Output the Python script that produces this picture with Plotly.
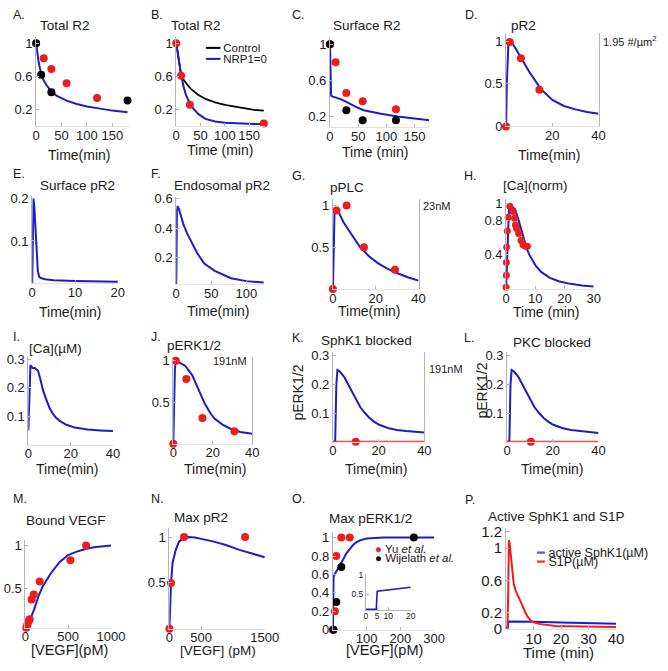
import plotly.graph_objects as go

# ---------------- data ----------------
# A. Total R2
a_t = [0, 2, 5, 10, 15, 20, 30, 40, 60, 80, 100, 120, 150, 180]
a_model = [1, 0.9, 0.77, 0.63, 0.55, 0.5, 0.42, 0.37, 0.31, 0.27, 0.24, 0.22, 0.19, 0.17]
a_red_t = [15, 30, 60, 120]
a_red_v = [0.82, 0.69, 0.52, 0.34]
a_blk_t = [0, 10, 30, 180]
a_blk_v = [1, 0.62, 0.41, 0.31]

# B. Total R2, control vs NRP1=0
b_t = [0, 5, 10, 15, 20, 30, 45, 60, 80, 100, 130, 160, 180]
b_control = [1, 0.78, 0.62, 0.56, 0.52, 0.45, 0.38, 0.33, 0.29, 0.26, 0.23, 0.2, 0.19]
b_nrp1 = [1, 0.78, 0.62, 0.48, 0.38, 0.25, 0.15, 0.09, 0.06, 0.045, 0.035, 0.03, 0.03]
b_red_t = [0, 10, 28, 180]
b_red_v = [1, 0.61, 0.26, 0.035]

# C. Surface R2
c_t = [0, 0.5, 1, 2, 5, 10, 20, 30, 45, 60, 90, 120, 150, 176]
c_model = [1, 0.7, 0.5, 0.43, 0.42, 0.41, 0.39, 0.36, 0.31, 0.27, 0.23, 0.2, 0.18, 0.16]
c_red_t = [0, 10, 29, 58, 117]
c_red_v = [1, 0.8, 0.46, 0.37, 0.28]
c_blk_t = [0, 29, 58, 117]
c_blk_v = [1, 0.27, 0.16, 0.16]

# D. pR2
d_t = [0, 0.3, 1, 2, 4, 7, 10, 15, 20, 25, 30, 35, 40]
d_model = [0, 0.5, 0.97, 1, 0.92, 0.78, 0.64, 0.44, 0.31, 0.24, 0.2, 0.17, 0.15]
d_red_t = [0, 1.6, 6.4, 14.4]
d_red_v = [0, 0.99, 0.8, 0.43]

# E. Surface pR2
e_t = [0, 0.15, 0.3, 0.5, 0.8, 1.0, 1.3, 1.6, 2, 3, 5, 10, 15, 20]
e_model = [0, 0.15, 0.2, 0.18, 0.12, 0.07, 0.03, 0.015, 0.012, 0.009, 0.007, 0.005, 0.004, 0.003]

# F. Endosomal pR2
f_t = [0, 0.5, 1, 2, 4, 7, 10, 15, 20, 30, 40, 55, 78, 100, 125]
f_model = [0, 0.4, 0.52, 0.55, 0.53, 0.48, 0.43, 0.37, 0.32, 0.23, 0.16, 0.11, 0.06, 0.04, 0.03]

# G. pPLC
g_t = [0, 0.3, 0.8, 1.5, 3, 5, 7, 10, 13, 17, 21, 25, 29, 35, 40]
g_model = [0, 0.6, 0.95, 0.98, 0.9, 0.8, 0.72, 0.6, 0.49, 0.39, 0.31, 0.25, 0.2, 0.14, 0.1]
g_red_t = [0, 1.7, 6.4, 14.5, 29]
g_red_v = [0, 0.94, 1.0, 0.5, 0.23]

# H. [Ca](norm)
h_t = [0, 0.3, 0.6, 1, 1.5, 2, 2.5, 3, 3.5, 4, 5, 6, 7, 8, 10, 12, 15, 18, 22, 26, 30]
h_model = [0, 0.3, 0.7, 0.95, 1, 0.97, 0.95, 0.94, 0.9, 0.84, 0.72, 0.6, 0.48, 0.4, 0.28, 0.2,
           0.13, 0.09, 0.06, 0.04, 0.03]
h_red_t = [0, 0.1, 0.1, 0.2, 0.4, 0.7, 1.3, 2.4, 2.9, 3.2, 3.6, 4.3, 5.1, 5.8, 6.6, 7.3]
h_red_v = [0.02, 0.16, 0.31, 0.49, 0.68, 0.84, 0.97, 0.91, 0.83, 0.75, 0.71, 0.65, 0.57, 0.52, 0.5, 0.5]

# I. [Ca](uM)
i_t = [0, 0.5, 1, 1.5, 2, 3, 4, 4.6, 5.5, 6.1, 7, 8.4, 10, 11.5, 13, 15, 18, 22, 28, 34, 40]
i_model = [0.05, 0.2, 0.28, 0.275, 0.27, 0.27, 0.265, 0.26, 0.235, 0.215, 0.19, 0.16, 0.13, 0.11,
           0.095, 0.083, 0.07, 0.06, 0.053, 0.05, 0.048]

# J. pERK1/2
j_t = [0, 0.3, 0.8, 1.3, 3, 6, 9.5, 12.8, 16, 19, 21, 25, 29, 34, 40]
j_model = [0, 0.5, 0.9, 1, 0.98, 0.94, 0.83, 0.65, 0.48, 0.36, 0.3, 0.23, 0.18, 0.14, 0.12]
j_red_t = [0, 1.3, 6.6, 14.8, 31]
j_red_v = [0, 1.0, 0.78, 0.31, 0.15]

# K. SphK1 blocked / L. PKC blocked
k_t = [0, 1, 1.5, 2, 3, 4, 5, 6, 7, 8, 10, 12, 14, 16, 18, 20, 24, 28, 32, 36, 40]
k_model = [0, 0, 0.2, 0.25, 0.245, 0.235, 0.225, 0.21, 0.195, 0.18, 0.15, 0.12, 0.1, 0.083, 0.07,
           0.06, 0.048, 0.041, 0.037, 0.034, 0.032]
k_blocked_t = [0, 40]
k_blocked_v = [0, 0]
k_red_t = [10]
k_red_v = [0]
l_t = [0, 1, 1.5, 2, 3, 4, 5, 6, 7, 8, 10, 12, 14, 16, 18, 20, 24, 28, 32, 36, 40]
l_model = [0, 0, 0.2, 0.25, 0.245, 0.235, 0.225, 0.21, 0.195, 0.18, 0.15, 0.12, 0.1, 0.083, 0.07,
           0.06, 0.048, 0.041, 0.037, 0.033, 0.03]
l_blocked_t = [0, 40]
l_blocked_v = [0, 0]
l_red_t = [10.4]
l_red_v = [0]

# M. Bound VEGF
m_c = [0, 50, 100, 150, 200, 250, 300, 400, 500, 600, 700, 800, 900, 1000]
m_model = [0, 0.12, 0.25, 0.4, 0.52, 0.6, 0.68, 0.81, 0.89, 0.93, 0.96, 0.98, 0.99, 1.0]
m_red_c = [10, 20, 30, 40, 50, 72, 98, 167, 526, 708]
m_red_v = [0.04, 0.07, 0.1, 0.12, 0.14, 0.37, 0.43, 0.58, 0.83, 1.0]

# N. Max pR2
n_c = [0, 10, 25, 50, 100, 150, 200, 300, 400, 500, 700, 900, 1100, 1300, 1500]
n_model = [0, 0.2, 0.5, 0.72, 0.86, 0.95, 0.98, 1.0, 0.995, 0.98, 0.95, 0.91, 0.86, 0.82, 0.78]
n_red_c = [0, 25, 230, 1190]
n_red_v = [0, 0.5, 1.0, 1.0]

# O. Max pERK1/2
o_c = [0, 1, 2, 5, 10, 20, 30, 40, 50, 60, 70, 80, 100, 150, 200, 250, 300]
o_model = [0, 0.3, 0.57, 0.6, 0.63, 0.7, 0.76, 0.83, 0.88, 0.92, 0.95, 0.97, 0.99, 1.0, 1.0, 1.0, 1.0]
o_yu_c = [0, 6, 10, 25, 50]
o_yu_v = [0, 0.2, 0.8, 1.0, 1.0]
o_wij_c = [2, 10, 25, 240]
o_wij_v = [0, 0.3, 0.68, 1.0]
o_inset_t = [0, 4.6, 5, 20]
o_inset_v = [0.12, 0.12, 0.58, 0.68]

# P. Active SphK1 and S1P
p_sphk_t = [0, 0.6, 0.8, 1, 5, 10, 20, 30, 40]
p_sphk_v = [0.01, 0.01, 0.09, 0.09, 0.088, 0.085, 0.078, 0.07, 0.062]
p_s1p_t = [0, 0.5, 0.8, 1, 1.3, 1.7, 2.2, 2.8, 3.5, 4.5, 5.5, 7, 8, 9, 10, 12, 15, 18, 22, 28, 34, 40]
p_s1p_v = [0.01, 0.02, 0.5, 1.1, 1.05, 0.9, 0.75, 0.55, 0.47, 0.4, 0.32, 0.2, 0.14, 0.1, 0.08, 0.06,
           0.045, 0.035, 0.03, 0.025, 0.02, 0.02]

# ---------------- styling / layout ----------------
W, H = 668, 671
BLUE = '#1c1cc8'
LBLUE = '#5a5cf0'
RED = '#ee1c1c'
BLACK = '#000000'
AXC = '#b4b4b4'
TXT = '#1a1a1a'
FONT = 'Liberation Sans, Arial, sans-serif'


def fx(p):
    return p / W


def fy(p):
    return 1 - p / H


# panel geometry in pixels: x (left,right), y (top,bottom)
panels = {
    1: dict(x=(33, 128), y=(32, 123), xr=[0, 182], yr=[0, 1.07], xt=[0, 50, 100, 150], yt=[0.2, 0.6, 1]),
    2: dict(x=(177, 268), y=(32, 123), xr=[0, 182], yr=[0, 1.07], xt=[0, 50, 100, 150], yt=[0.2, 0.6, 1]),
    3: dict(x=(335, 437), y=(32, 124), xr=[0, 176], yr=[0.08, 1.076], xt=[0, 50, 100, 150], yt=[0.2, 0.6, 1]),
    4: dict(x=(516, 611), y=(28, 123), xr=[0, 40], yr=[0, 1.09], xt=[20, 40], yt=[0, 0.5, 1], mirror=True),
    5: dict(x=(29, 117), y=(194, 283), xr=[0, 20], yr=[0, 0.207], xt=[0, 10, 20], yt=[0.1, 0.2]),
    6: dict(x=(177, 267), y=(195, 284), xr=[0, 125], yr=[0.02, 0.613], xt=[0, 50, 100], yt=[0.2, 0.4, 0.6]),
    7: dict(x=(338, 426), y=(197, 289), xr=[0, 40], yr=[0, 1.08], xt=[0, 20, 40], yt=[0.5, 1], mirror=True),
    8: dict(x=(516, 606), y=(197, 289), xr=[0, 30], yr=[0, 1.057], xt=[0, 10, 20, 30], yt=[0.4, 0.8, 1]),
    9: dict(x=(25, 112), y=(358, 448), xr=[0, 40], yr=[0, 0.31], xt=[0, 20, 40], yt=[0.1, 0.2, 0.3]),
    10: dict(x=(174, 255), y=(358, 447), xr=[0, 40], yr=[0, 1.05], xt=[0, 20, 40], yt=[0.5, 1], mirror=True),
    11: dict(x=(338, 432), y=(353, 445), xr=[0, 40], yr=[0, 0.314], xt=[0, 20, 40], yt=[0.1, 0.2, 0.3], mirror=True),
    12: dict(x=(517, 611), y=(353, 445), xr=[0, 40], yr=[0, 0.314], xt=[0, 20, 40], yt=[0.1, 0.2, 0.3]),
    13: dict(x=(22, 110), y=(545, 635), xr=[0, 1000], yr=[0.04, 1.07], xt=[0, 500, 1000], yt=[0.5, 1]),
    14: dict(x=(170, 268), y=(533, 636), xr=[0, 1500], yr=[0, 1.1], xt=[0, 500, 1500], yt=[0.5, 1]),
    15: dict(x=(338, 442), y=(537, 637), xr=[0, 300], yr=[0, 1.063], xt=[100, 200, 300],
             yt=[0, 0.2, 0.4, 0.6, 0.8, 1]),
    16: dict(x=(516, 629), y=(533, 636), xr=[0, 40], yr=[0, 1.25], xt=[10, 20, 30, 40],
             yt=[0, 0.2, 0.6, 1, 1.2], tf=15, sx=-4),
    17: dict(x=(372, 418), y=(580, 617), xr=[0, 20], yr=[0.1, 1.02], xt=[0, 5, 10, 20], yt=[0.5, 1],
             tf=8.5, xline=True, sx=-2),
}


def xn(i):
    return 'x' if i == 1 else f'x{i}'


def yn(i):
    return 'y' if i == 1 else f'y{i}'


fig = go.Figure()


def line(i, x, y, color=BLUE, width=2):
    fig.add_trace(go.Scatter(x=x, y=y, mode='lines', line=dict(color=color, width=width),
                             xaxis=xn(i), yaxis=yn(i), showlegend=False, cliponaxis=False,
                             hoverinfo='skip'))


def dots(i, x, y, color=RED, size=8):
    fig.add_trace(go.Scatter(x=x, y=y, mode='markers', marker=dict(color=color, size=size),
                             xaxis=xn(i), yaxis=yn(i), showlegend=False, cliponaxis=False,
                             hoverinfo='skip'))


line(1, a_t, a_model)
dots(1, a_red_t, a_red_v)
dots(1, a_blk_t, a_blk_v, BLACK)

line(2, b_t, b_control, BLACK, 1.8)
line(2, b_t, b_nrp1)
dots(2, b_red_t, b_red_v)

line(3, c_t, c_model)
dots(3, c_red_t, c_red_v)
dots(3, c_blk_t, c_blk_v, BLACK)

line(4, d_t, d_model)
dots(4, d_red_t, d_red_v)

line(5, e_t, e_model)
line(6, f_t, f_model)

line(7, g_t, g_model)
dots(7, g_red_t, g_red_v)

line(8, h_t, h_model)
dots(8, h_red_t, h_red_v, size=7)

line(9, i_t, i_model)

line(10, j_t, j_model)
dots(10, j_red_t, j_red_v)

line(11, k_t, k_model)
line(11, k_blocked_t, k_blocked_v, RED, 1.8)
dots(11, k_red_t, k_red_v)

line(12, l_t, l_model)
line(12, l_blocked_t, l_blocked_v, RED, 1.8)
dots(12, l_red_t, l_red_v)

line(13, m_c, m_model)
dots(13, m_red_c, m_red_v)

line(14, n_c, n_model)
dots(14, n_red_c, n_red_v)

line(15, o_c, o_model)
dots(15, o_yu_c, o_yu_v)
dots(15, o_wij_c, o_wij_v, BLACK)

line(17, o_inset_t, o_inset_v, BLUE, 1.6)

line(16, p_sphk_t, p_sphk_v, BLUE, 2)
line(16, p_s1p_t, p_s1p_v, RED, 2)

layout = dict(width=W, height=H, margin=dict(l=0, r=0, t=0, b=0),
              paper_bgcolor='white', plot_bgcolor='rgba(0,0,0,0)',
              font=dict(family=FONT, color=TXT), showlegend=False)

for i, p in panels.items():
    tf = p.get('tf', 13)
    xa = dict(domain=[fx(p['x'][0]), fx(p['x'][1])], range=p['xr'], tickvals=p['xt'],
              anchor=yn(i), showline=True, linecolor=AXC if p.get('xline') else '#e2e2e2', linewidth=1,
              ticks='inside', ticklen=3, tickcolor=AXC, showgrid=False, zeroline=False,
              ticklabelstandoff=p.get('sx', -3),
              tickfont=dict(size=tf, family=FONT, color=TXT), fixedrange=True)
    ya = dict(domain=[fy(p['y'][1]), fy(p['y'][0])], range=p['yr'], tickvals=p['yt'],
              anchor=xn(i), showline=True, linecolor=AXC, linewidth=1,
              ticks='inside', ticklen=3, tickcolor=AXC, showgrid=False, zeroline=False,
              mirror=p.get('mirror', False),
              tickfont=dict(size=tf, family=FONT, color=TXT), fixedrange=True)
    key = '' if i == 1 else str(i)
    layout['xaxis' + key] = xa
    layout['yaxis' + key] = ya

fig.update_layout(**layout)

ann = []


def text(t, px, py, size=13.5, xanchor='center', angle=0):
    ann.append(dict(text=t, x=fx(px), y=fy(py), xref='paper', yref='paper', showarrow=False,
                    xanchor=xanchor, yanchor='middle', textangle=angle,
                    font=dict(size=size, family=FONT, color=TXT)))


# panel letters
for lab, px, py in [('A.', 7, 9), ('B.', 149, 9), ('C.', 294, 9), ('D.', 472, 9),
                    ('E.', 7, 172), ('F.', 149, 172), ('G.', 294, 174), ('H.', 471, 174),
                    ('I.', 7, 338), ('J.', 149, 338), ('K.', 294, 339), ('L.', 471, 339),
                    ('M.', 7, 504), ('N.', 149, 504), ('O.', 294, 504), ('P.', 472, 505)]:
    text(lab, px, py, 12.5, 'left')

# panel titles
for t, px, py in [('Total R2', 63, 20), ('Total R2', 197, 20), ('Surface R2', 373, 20), ('pR2', 534, 20),
                  ('Surface pR2', 76, 183), ('Endosomal pR2', 224, 183), ('pPLC', 352, 185),
                  ('[Ca](norm)', 546, 183), ('[Ca](µM)', 53, 350), ('pERK1/2', 195, 347),
                  ('SphK1 blocked', 373, 342), ('PKC blocked', 563, 344), ('Bound VEGF', 64, 525),
                  ('Max pR2', 202, 522), ('Max pERK1/2', 377, 523), ('Active SphK1 and S1P', 568, 521)]:
    text(t, px, py, 13.5)

# axis titles
for t, px, py, s in [('Time(min)', 77, 152, 14), ('Time (min)', 222, 147, 14), ('Time (min)', 381, 149, 14),
                     ('Time(min)', 560, 152, 14), ('Time(min)', 68, 313, 14), ('Time(min)', 220, 311, 14),
                     ('Time(min)', 375, 312, 14), ('Time (min)', 557, 313, 14), ('Time(min)', 65, 473, 14),
                     ('Time(min)', 217, 473, 14), ('Time(min)', 382, 473, 14), ('Time(min)', 563, 473, 14),
                     ('[VEGF](pM)', 67, 658, 14.5), ('[VEGF] (pM)', 220, 658, 13.5),
                     ('[VEGF](pM)', 391, 658, 14.5), ('Time (min)', 570, 660, 15)]:
    text(t, px, py, s)

text('pERK1/2', 302, 395, 14, angle=-90)
text('pERK1/2', 491, 393, 14, angle=-90)

# right-axis scale labels
ann.append(dict(text='1.95 #/µm<sup>2</sup>', x=1.03, y=1, xref='x4 domain', yref='y4', showarrow=False,
                xanchor='left', yanchor='middle', font=dict(size=11, family=FONT, color=TXT)))
ann.append(dict(text='23nM', x=1.03, y=1, xref='x7 domain', yref='y7', showarrow=False,
                xanchor='left', yanchor='middle', font=dict(size=11, family=FONT, color=TXT)))
ann.append(dict(text='191nM', x=0.96, y=1, xref='x10 domain', yref='y10', showarrow=False,
                xanchor='right', yanchor='middle', font=dict(size=11, family=FONT, color=TXT)))
ann.append(dict(text='191nM', x=1.03, y=0.255, xref='x11 domain', yref='y11', showarrow=False,
                xanchor='left', yanchor='middle', font=dict(size=11, family=FONT, color=TXT)))

# legends (drawn as text entries)
ann.append(dict(text='<span style="color:#000000">━━</span> Control', x=fx(205), y=fy(43),
                xref='paper', yref='paper', showarrow=False, xanchor='left', yanchor='middle',
                font=dict(size=11.5, family=FONT, color=TXT)))
ann.append(dict(text=f'<span style="color:{BLUE}">━━</span> NRP1=0', x=fx(205), y=fy(54),
                xref='paper', yref='paper', showarrow=False, xanchor='left', yanchor='middle',
                font=dict(size=11.5, family=FONT, color=TXT)))
ann.append(dict(text=f'<span style="color:{RED}">●</span> Yu <i>et al.</i>', x=fx(379), y=fy(555),
                xref='paper', yref='paper', showarrow=False, xanchor='left', yanchor='middle',
                font=dict(size=11.5, family=FONT, color=TXT)))
ann.append(dict(text='<span style="color:#000000">●</span> Wijelath <i>et al.</i>', x=fx(379), y=fy(564),
                xref='paper', yref='paper', showarrow=False, xanchor='left', yanchor='middle',
                font=dict(size=11.5, family=FONT, color=TXT)))
ann.append(dict(text=f'<span style="color:{LBLUE}">━</span> active SphK1(µM)', x=fx(545), y=fy(559),
                xref='paper', yref='paper', showarrow=False, xanchor='left', yanchor='middle',
                font=dict(size=12.5, family=FONT, color=TXT)))
ann.append(dict(text='<span style="color:#f04040">━</span> S1P(µM)', x=fx(545), y=fy(568),
                xref='paper', yref='paper', showarrow=False, xanchor='left', yanchor='middle',
                font=dict(size=12.5, family=FONT, color=TXT)))

fig.update_layout(annotations=ann)

fig.write_html("out.html", config={'displayModeBar': False, 'staticPlot': True},
               post_script="document.body.style.margin='0';")
